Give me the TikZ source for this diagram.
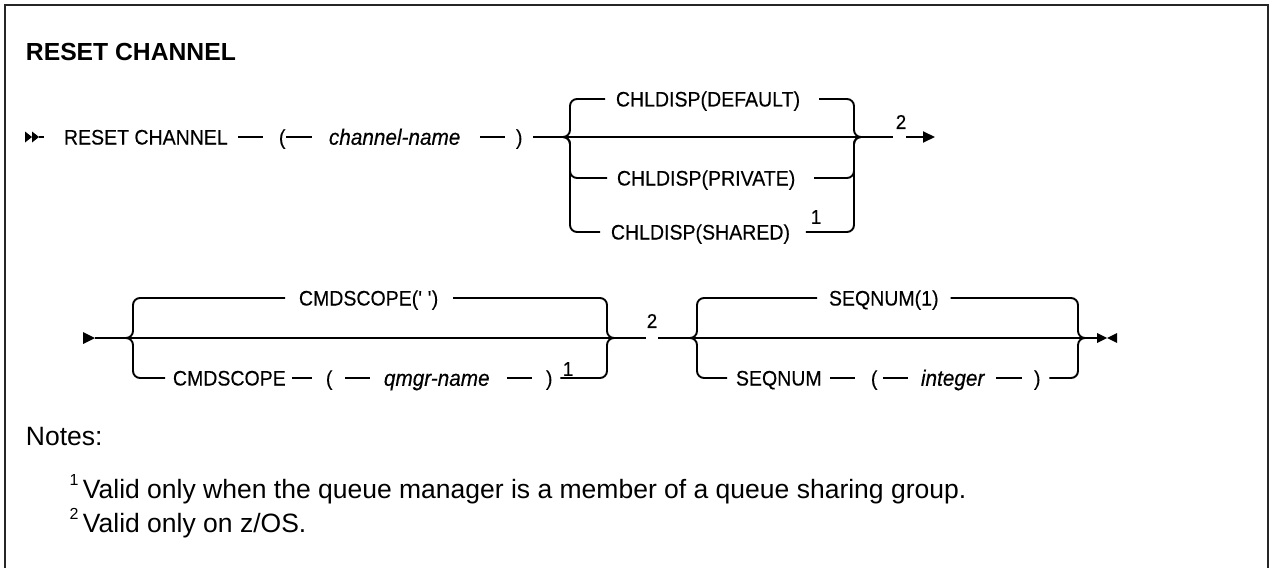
\documentclass[tikz,border=0pt]{standalone}
\usepackage{fontspec}
\setmainfont{Liberation Sans}
\newfontfamily\diagfont[FakeStretch=0.93,FakeBold=0.3]{Liberation Sans}
\usetikzlibrary{arrows.meta}
\begin{document}
\begin{tikzpicture}[x=1pt,y=-1pt,
  line width=1.9pt,
  dtext/.style={inner sep=0pt, anchor=west, text height=15pt, text depth=0pt, font=\diagfont\fontsize{21}{24}\selectfont},
  itext/.style={inner sep=0pt, anchor=west, text height=15.5pt, text depth=0pt, font=\diagfont\fontsize{22.3}{25}\selectfont\itshape},
  notenum/.style={inner sep=0pt, anchor=center, font=\diagfont\fontsize{20}{22}\selectfont},
  ntext/.style={inner sep=0pt, anchor=west, text height=19pt, text depth=0pt, font=\fontsize{26.5}{30}\selectfont},
  supnum/.style={inner sep=0pt, anchor=center, font=\fontsize{16}{18}\selectfont},
  rail/.style={rounded corners=7pt},
  tip/.style={-{Triangle[length=12pt,width=11pt]}}
]
\useasboundingbox (0,0) rectangle (1273,567);
\clip (0,0) rectangle (1273,567);
% frame
\draw[line width=2pt, black!85] (5,600) -- (5,5) -- (1268,5) -- (1268,600);

% title
\node[inner sep=0pt, anchor=west, text height=17.7pt, text depth=0pt,
      font=\fontsize{24.7}{28}\selectfont\bfseries] (title) at (25,52) {RESET CHANNEL};

% ---------- row 1 ----------
\fill (25,131.5) -- (32,137) -- (25,142.5) -- cycle;
\fill (32,131.5) -- (39,137) -- (32,142.5) -- cycle;
\coordinate (s1) at (39,137);
\node[dtext] (rc) at (63,137) {RESET CHANNEL};
\draw (s1) -- ([xshift=-19]rc.west);
\node[dtext] (lp1) at (278,137) {(};
\draw ([xshift=-40]lp1.west) -- ([xshift=-15]lp1.west);
\node[itext] (cn) at (328,137) {channel-name};
\draw ([xshift=-42]cn.west) -- ([xshift=-16]cn.west);
\node[dtext] (rp1) at (515,137) {)};
\draw ([xshift=-35]rp1.west) -- ([xshift=-10]rp1.west);

\coordinate (j1) at (563,137);
\coordinate (j1v) at (570,137);
\coordinate (j2v) at (854,137);
\coordinate (j2) at (861,137);
\draw ([xshift=10]rp1.east) -- (j1) -- (j2);

\node[dtext] (def) at (615,99) {CHLDISP(DEFAULT)};
\draw[rail] (j1) -- (j1v) |- ([xshift=-10]def.west);
\draw[rail] ([xshift=18]def.east) -| (j2v) -- (j2);

\node[dtext] (pri) at (616,178) {CHLDISP(PRIVATE)};
\draw[rail] (j1) -- (j1v) |- ([xshift=-9]pri.west);
\draw[rail] ([xshift=18]pri.east) -| (j2v) -- (j2);

\node[dtext] (sha) at (610,232) {CHLDISP(SHARED)};
\node[notenum] (n1a) at (816,217) {1};
\draw[rail] (j1) -- (j1v) |- ([xshift=-10]sha.west);
\draw[rail] ([xshift=15]sha.east) -| (j2v) -- (j2);

\node[notenum] (n2a) at (901,122) {2};
\coordinate (a1) at (893,137);
\coordinate (a2) at (906,137);
\coordinate (a3) at (935,137);
\draw (j2) -- (a1);
\draw[tip] (a2) -- (a3);

% ---------- row 2 ----------
\fill (83,332) -- (95,338) -- (83,344) -- cycle;
\coordinate (s2) at (95,338);
\coordinate (j3) at (126,338);
\coordinate (j3v) at (133,338);
\coordinate (j4v) at (607,338);
\coordinate (j4) at (614,338);
\draw (s2) -- (j3) -- (j4);

\node[dtext] (cs1) at (298,298) {CMDSCOPE(\textquotesingle\ \textquotesingle)};
\draw[rail] (j3) -- (j3v) |- ([xshift=-13]cs1.west);
\draw[rail] ([xshift=14]cs1.east) -| (j4v) -- (j4);

\node[dtext] (cs2) at (172,378) {CMDSCOPE};
\draw[rail] (j3) -- (j3v) |- ([xshift=-7]cs2.west);
\node[dtext] (lp2) at (325,378) {(};
\draw ([xshift=5]cs2.east) -- ([xshift=-13]lp2.west);
\node[itext] (qm) at (383,378) {qmgr-name};
\draw ([xshift=-38]qm.west) -- ([xshift=-13]qm.west);
\node[dtext] (rp2) at (545,378) {)};
\draw ([xshift=-38]rp2.west) -- ([xshift=-13]rp2.west);
\node[notenum] (n1b) at (568,369) {1};
\draw[rail] ([xshift=7]rp2.east) -| (j4v) -- (j4);

\node[notenum] (n2b) at (652,321) {2};
\coordinate (b1) at (646,338);
\coordinate (b2) at (658,338);
\coordinate (j5) at (690,338);
\coordinate (j5v) at (697,338);
\coordinate (j6v) at (1078,338);
\coordinate (j6) at (1085,338);
\draw (j4) -- (b1);
\draw (b2) -- (j5) -- (j6);

\node[dtext] (sq1) at (828,298) {SEQNUM(1)};
\draw[rail] (j5) -- (j5v) |- ([xshift=-11]sq1.west);
\draw[rail] ([xshift=11]sq1.east) -| (j6v) -- (j6);

\node[dtext] (sq2) at (735,378) {SEQNUM};
\draw[rail] (j5) -- (j5v) |- ([xshift=-8]sq2.west);
\node[dtext] (lp3) at (870,378) {(};
\draw ([xshift=-40]lp3.west) -- ([xshift=-15]lp3.west);
\node[itext] (int) at (920,378) {integer};
\draw ([xshift=-37]int.west) -- ([xshift=-12]int.west);
\node[dtext] (rp3) at (1033,378) {)};
\draw ([xshift=-37]rp3.west) -- ([xshift=-11]rp3.west);
\draw[rail] ([xshift=8]rp3.east) -| (j6v) -- (j6);

\coordinate (e1) at (1097,338);
\draw (j6) -- (e1);
\fill (1097,333) -- (1107,338) -- (1097,343) -- cycle;
\fill (1117,333) -- (1107,338) -- (1117,343) -- cycle;

% ---------- notes ----------
\node[ntext] (notes) at (25,436) {Notes:};
\node[supnum] (sn1) at (74,480) {1};
\node[ntext] (v1) at (82,489) {Valid only when the queue manager is a member of a queue sharing group.};
\node[supnum] (sn2) at (74,514) {2};
\node[ntext] (v2) at (82,523) {Valid only on z/OS.};
\end{tikzpicture}
\end{document}
